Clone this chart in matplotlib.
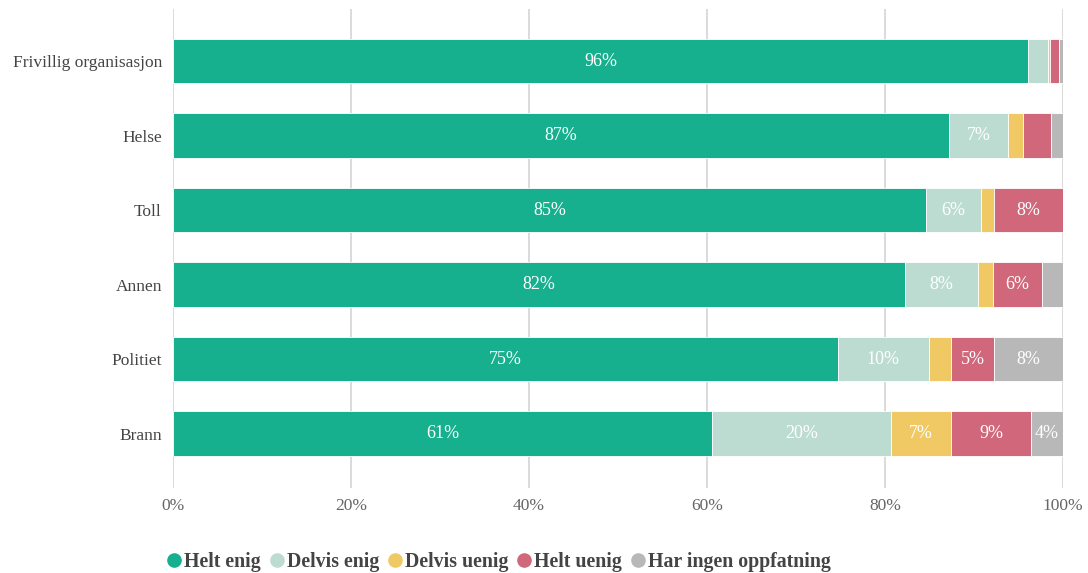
import numpy as np
import matplotlib
matplotlib.use('Agg')
import matplotlib.pyplot as plt
from matplotlib.lines import Line2D

# ---- data (percent) ----
categories = ['Frivillig organisasjon', 'Helse', 'Toll', 'Annen', 'Politiet', 'Brann']
series = ['Helt enig', 'Delvis enig', 'Delvis uenig', 'Helt uenig', 'Har ingen oppfatning']
helt_enig    = [96.1, 87.2, 84.6, 82.2, 74.7, 60.6]
delvis_enig  = [2.2, 6.6, 6.2, 8.2, 10.2, 20.1]
delvis_uenig = [0.2, 1.7, 1.4, 1.7, 2.5, 6.7]
helt_uenig   = [1.0, 3.1, 7.8, 5.5, 4.9, 9.0]
ingen        = [0.5, 1.4, 0.0, 2.4, 7.7, 3.6]
xticks = [0, 20, 40, 60, 80, 100]

colors = ['#17b08f', '#bcdcd2', '#f0c964', '#d0677a', '#b8b8b8']
values = [helt_enig, delvis_enig, delvis_uenig, helt_uenig, ingen]

plt.rcParams['font.family'] = ['Liberation Serif', 'DejaVu Serif']

fig = plt.figure(figsize=(10.88, 5.73), dpi=100)
ax = fig.add_axes([173 / 1088, 1 - 488 / 573, 890 / 1088, 479 / 573])

y = np.arange(len(categories))
left = np.zeros(len(categories))
for name, vals, c in zip(series, values, colors):
    vals = np.array(vals)
    ax.barh(y, vals, left=left, height=0.6, color=c, edgecolor='white',
            linewidth=0.6, zorder=3, label=name)
    for yi, l, v in zip(y, left, vals):
        if v >= 3.5:
            ax.text(l + v / 2, yi, f'{v:.0f}%', ha='center', va='center',
                    color='white', fontsize=13, zorder=4)
    left += vals

ax.set_xlim(0, 100)
ax.set_ylim(len(categories) - 1 + 0.73, -0.70)
ax.set_yticks(y)
ax.set_yticklabels(categories, fontsize=12.5, color='#444444')
ax.set_xticks(xticks)
ax.set_xticklabels([f'{t}%' for t in xticks], fontsize=12.5, color='#666666')
ax.tick_params(axis='both', length=0)
ax.tick_params(axis='x', pad=7)
ax.tick_params(axis='y', pad=8)
for s in ax.spines.values():
    s.set_visible(False)
ax.grid(axis='x', color='#d4d4d4', linewidth=1.2, zorder=0)

handles = [Line2D([0], [0], marker='o', linestyle='', markersize=9.5,
                  markerfacecolor=c, markeredgecolor=c) for c in colors]
fig.legend(handles, series, loc='center', bbox_to_anchor=(499 / 1088, 1 - 562 / 573),
           ncol=5, frameon=False, handlelength=0.7, handletextpad=0.15,
           columnspacing=0.45, prop={'weight': 'bold', 'size': 14.3},
           labelcolor='#444444')

fig.savefig('out.png', dpi=100)
